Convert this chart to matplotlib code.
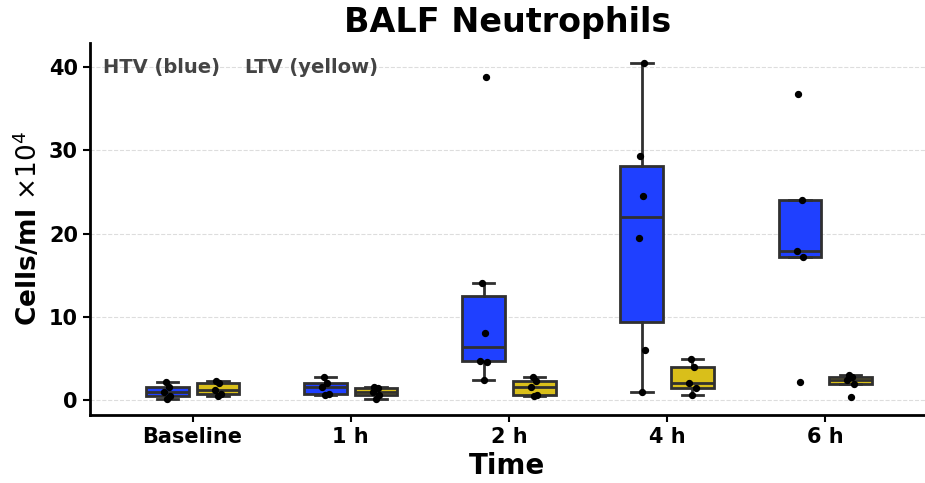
import numpy as np
import matplotlib
matplotlib.use("Agg")
import matplotlib.pyplot as plt

groups = ["Baseline", "1 h", "2 h", "4 h", "6 h"]

# BALF neutrophil counts (cells/ml x 10^4) per animal
htv = [
    [0.1, 0.5, 1.0, 1.5, 2.1],
    [0.6, 0.7, 1.5, 2.0, 2.7],
    [2.4, 4.6, 4.7, 8.1, 14.0, 38.8],
    [0.9, 6.0, 19.5, 24.5, 29.3, 40.5],
    [2.1, 17.2, 17.9, 24.0, 36.8],
]
ltv = [
    [0.5, 0.7, 1.2, 2.0, 2.3],
    [0.1, 0.6, 1.0, 1.4, 1.6],
    [0.5, 0.6, 1.5, 2.3, 2.7],
    [0.6, 1.4, 2.0, 4.0, 4.9],
    [0.4, 1.9, 2.4, 2.8, 3.0],
]

BLUE = "#1f40ff"
YELLOW = "#d9bf1a"
EDGE = "#303030"

fig = plt.figure(figsize=(9.25, 4.83), dpi=100)
ax = fig.add_axes([0.097, 0.141, 0.903, 0.770])

x = np.arange(len(groups))
offset = 0.16
width = 0.27
jitter = np.array([0.0, 0.02, -0.02, 0.01, -0.01, 0.015])

for series, color, shift in [(htv, BLUE, -offset), (ltv, YELLOW, offset)]:
    pos = x + shift
    bp = ax.boxplot(series, positions=pos, widths=width, patch_artist=True,
                    showfliers=False, manage_ticks=False,
                    boxprops=dict(facecolor=color, edgecolor=EDGE, linewidth=2),
                    medianprops=dict(color=EDGE, linewidth=2),
                    whiskerprops=dict(color=EDGE, linewidth=2),
                    capprops=dict(color=EDGE, linewidth=2))
    for p, vals in zip(pos, series):
        vals = np.asarray(vals)
        ax.scatter(p + jitter[:len(vals)], vals, s=18, color="black", zorder=5)

ax.set_xlim(-0.65, 4.63)
ax.set_ylim(-1.8, 42.9)
ax.set_yticks([0, 10, 20, 30, 40])
ax.set_xticks(x)
ax.set_xticklabels(groups)
ax.yaxis.grid(True, linestyle="--", color="#dddddd", linewidth=0.8)
ax.set_axisbelow(True)

for side in ["top", "right"]:
    ax.spines[side].set_visible(False)
for side in ["left", "bottom"]:
    ax.spines[side].set_linewidth(2)

ax.tick_params(axis="both", labelsize=15, width=1.5, length=5)
for lab in ax.get_xticklabels() + ax.get_yticklabels():
    lab.set_fontweight("bold")

ax.set_xlabel("Time", fontsize=20, fontweight="bold", labelpad=4)
ax.set_ylabel(r"Cells/ml $\times 10^4$", fontsize=19, fontweight="bold")
ax.set_title("BALF Neutrophils", fontsize=24, fontweight="bold", pad=8)

ax.text(0.016, 40, "HTV (blue)", transform=ax.get_yaxis_transform(),
        fontsize=14, fontweight="bold", color="#444444", va="center")
ax.text(0.186, 40, "LTV (yellow)", transform=ax.get_yaxis_transform(),
        fontsize=14, fontweight="bold", color="#444444", va="center")

fig.savefig("out.png", dpi=100)
